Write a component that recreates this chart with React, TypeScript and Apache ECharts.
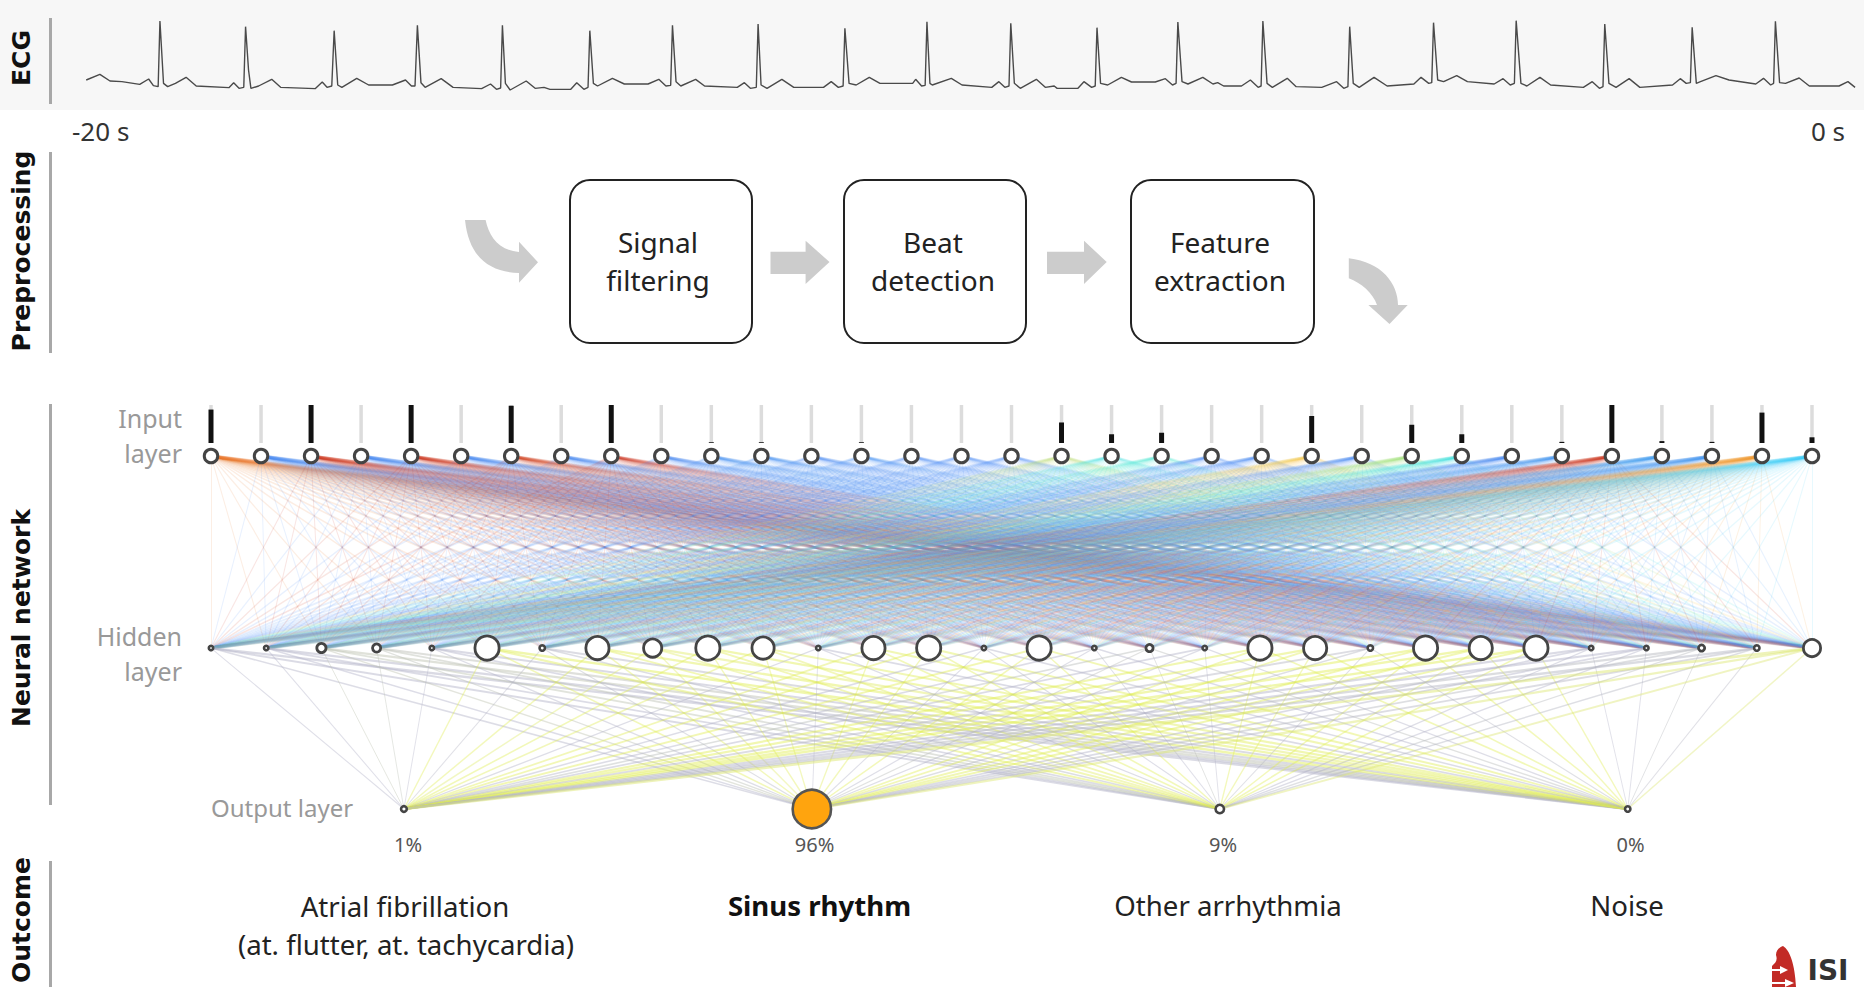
import React, { useEffect, useRef } from "react";
import * as echarts from "echarts";

// ---------- DATA ----------
// ECG trace: [sample, level] (level grows downward on the strip)
const ecgStrip1: number[][] = [
  [145,240],[168,223],[185,243],[205,245],[235,253],[250,237],[258,257],[266,260],[269,63],[275,250],[282,260],[295,250],[313,232],[330,258],
  [385,263],[393,248],[402,265],[410,262],[413,80],[418,210],[422,265],[435,258],[457,238],[472,262],[530,266],[542,246],[550,262],[558,258],
  [562,92],[568,255],[575,262],[600,235],[620,255],[660,255],[682,240],[692,258],[698,258],[702,76],[708,248],[715,262],[742,236],[762,262],
  [810,266],[825,252],[835,268],[842,264],[845,76],[850,250],[858,270],[885,243],[900,265],[915,262],[925,268],[960,268],[970,248],[982,268],[989,262],
  [992,92],[998,250],[1005,258],[1030,235],[1050,252],[1090,252],[1108,238],[1120,258],[1128,256],[1131,76],[1137,245],[1145,258],[1170,238],[1185,258],
  [1240,262],[1252,248],[1262,265],[1272,262],[1275,72],[1280,255],[1290,265],[1315,238],[1335,262],[1385,262],[1398,245],[1410,262],[1418,258],
  [1421,85],[1428,250],[1440,255],[1462,232],[1480,250],[1535,250],[1540,238],[1550,258],[1556,256],[1559,65],[1564,250],
];
const ecgStrip2: number[][] = [
  [0,255],[32,235],[50,255],[100,262],[112,245],[122,262],[129,258],[132,70],[138,250],[148,265],[175,238],[190,262],[205,258],[210,265],[245,265],
  [255,245],[268,262],[274,258],[277,83],[283,250],[295,255],[318,232],[335,246],[375,246],[392,236],[404,255],[410,250],[413,66],[420,245],[430,252],
  [455,232],[472,252],[480,248],[490,258],[520,258],[535,240],[548,262],[553,258],[556,63],[563,250],[572,262],[597,235],[612,260],[655,262],[680,245],
  [692,265],[699,260],[702,80],[708,250],[718,262],[743,232],[765,258],[810,252],[822,232],[835,250],[840,248],[843,68],[850,240],[860,245],[882,227],
  [900,245],[945,252],[960,236],[972,255],[979,250],[982,62],[990,250],[1000,258],[1022,232],[1040,255],[1095,262],[1110,245],[1122,265],[1128,260],
  [1131,72],[1138,250],[1150,262],[1172,236],[1190,262],[1245,255],[1258,236],[1268,250],[1275,248],[1278,82],[1285,250],[1292,245],[1318,227],[1340,240],
  [1385,252],[1398,235],[1410,255],[1415,250],[1418,64],[1425,248],[1435,250],[1458,234],[1475,258],[1525,258],[1540,245],[1552,262],
];
const strip2Start = 1568;

// normalised feature at each input neuron
const inputValues = [0.88,0,1,0,1,0,0.98,0,1,0,0.02,0.02,0,0.02,0,0,0,0.54,0.23,0.27,0,0,0.71,0,0.48,0.23,0,0.03,1,0.05,0.03,0.8,0.15];
// activation at each hidden neuron
const hiddenActivation = [0,0,0.25,0.2,0,1,0.05,0.95,0.7,1,0.9,0,0.95,1,0,1,0,0.15,0,1,0.95,0.05,1,0.95,1,0,0,0.1,0.05,0.65];
// outcome probabilities in percent
const outputPercent = [1,96,9,0];
const percentLabels = ["1%","96%","9%","0%"];
const outcomeLabels = ["Atrial fibrillation","Sinus rhythm","Other arrhythmia","Noise"];
const stages = [["Signal","filtering"],["Beat","detection"],["Feature","extraction"]];
const timeLabels = ["-20 s","0 s"];

// ---------- COLOUR SCALES ----------
const jetStops: [number, number[]][] = [
  [0,[70,136,244]],[0.15,[60,205,245]],[0.25,[64,230,216]],[0.5,[168,224,112]],[0.7,[244,200,64]],[0.85,[240,128,32]],[1,[205,52,30]],
];
const mix = (stops: [number, number[]][], v: number) => {
  for (let i = 1; i < stops.length; i++) {
    if (v <= stops[i][0]) {
      const [a, ca] = stops[i - 1];
      const [b, cb] = stops[i];
      const t = (v - a) / (b - a);
      return `rgb(${ca.map((c, k) => Math.round(c + (cb[k] - c) * t)).join(",")})`;
    }
  }
  const last = stops[stops.length - 1][1];
  return `rgb(${last.join(",")})`;
};
const hiddenStops: [number, number[]][] = [[0,[176,176,198]],[0.3,[190,196,170]],[0.7,[222,234,96]],[1,[222,236,72]]];

// ---------- NETWORK ----------
const OUTPUT_FIRST = 0.1205;
const OUTPUT_STEP = 0.2548;
const HIDDEN_DEPTH = 1;
const OUTPUT_DEPTH = 1.838;

function buildNetwork() {
  const ring = "#444";
  const nodes: any[] = [];
  const links: any[] = [];
  const inputPos = (i: number) => i / (inputValues.length - 1);
  const hiddenPos = (h: number) => h / (hiddenActivation.length - 1);
  const outputPos = (o: number) => OUTPUT_FIRST + o * OUTPUT_STEP;
  inputValues.forEach((_, i) => {
    nodes.push({
      name: `i${i}`,
      value: [inputPos(i), 0],
      symbolSize: 13.5,
      itemStyle: { color: "#fff", borderColor: ring, borderWidth: 3 },
    });
  });
  const hBase = inputValues.length;
  hiddenActivation.forEach((a, i) => {
    const d = 7 + 20 * a;
    const bw = d < 9 ? 2.6 : 2.8;
    nodes.push({
      name: `h${i}`,
      value: [hiddenPos(i), HIDDEN_DEPTH],
      symbolSize: d - bw,
      itemStyle: { color: "#fff", borderColor: ring, borderWidth: bw },
    });
  });
  const oBase = hBase + hiddenActivation.length;
  outputPercent.forEach((p, i) => {
    const d = 8 + (33 * p) / 96;
    const active = p > 50;
    nodes.push({
      name: `o${i}`,
      value: [outputPos(i), OUTPUT_DEPTH],
      symbolSize: d - 2.6,
      itemStyle: { color: active ? "#ffa40e" : "#fff", borderColor: active ? "#555" : ring, borderWidth: 2.6 },
    });
  });
  inputValues.forEach((v, i) => {
    const color = mix(jetStops, v);
    hiddenActivation.forEach((_, h) => {
      const span = Math.abs(inputPos(i) - hiddenPos(h));
      links.push({
        source: i, target: hBase + h,
        lineStyle: { color, width: 1 + 2.4 * span, opacity: 0.12 + 0.03 * span },
      });
    });
  });
  hiddenActivation.forEach((a, h) => {
    const color = mix(hiddenStops, a);
    outputPercent.forEach((_, o) => {
      const span = Math.abs(hiddenPos(h) - outputPos(o));
      links.push({
        source: hBase + h, target: oBase + o,
        lineStyle: { color, width: (a > 0.5 ? 1.3 : 0.9) + 1.6 * span, opacity: a > 0.6 ? 0.36 + 0.12 * span : 0.4 + 0.08 * span },
      });
    });
  });
  return { nodes, links };
}

// ---------- SHAPES ----------
const sweepInPath = "M465 220 L485.6 220 C489 236 498 250 519 252 L519 241.7 L538 262.3 L519 282.7 L519 273 C490 272 469 258 465 220 Z";
const sweepOutPath = "M1348.8 258.3 C1382 262 1398 284 1398 305 L1407.7 305 L1389.5 324 L1368.4 305 L1377 305 C1373 293 1361 283 1348.8 278.3 Z";
const logoPath = "M1783 946 C1790 950 1795 965 1796 987 L1772 987 L1772 966 C1775 963 1778 961 1776 955 C1776 950 1780 947 1783 946 Z";
echarts.graphic.registerShape("sweepIn", echarts.graphic.extendPath(sweepInPath, {}));
echarts.graphic.registerShape("sweepOut", echarts.graphic.extendPath(sweepOutPath, {}));
echarts.graphic.registerShape("isiMark", echarts.graphic.extendPath(logoPath, {}));

const SANS = '"Noto Sans", sans-serif';
const WIDE = '"DejaVu Sans", sans-serif';

const txt = (text: string, x: number, y: number, fontSize: number, fill: string, align = "center", fontWeight: any = "normal", fontFamily = SANS) => ({
  type: "text", x, y, silent: true,
  style: { text, fontSize, fill, align, verticalAlign: "middle", fontWeight, fontFamily },
});
const sideLabel = (text: string, x: number, y: number) => ({ ...txt(text, x, y, 25, "#111", "center", "bold", WIDE), rotation: Math.PI / 2 });
const sideBar = (y1: number, y2: number) => ({
  type: "line", silent: true, shape: { x1: 50.5, y1, x2: 50.5, y2 }, style: { stroke: "#a8a8a8", lineWidth: 3 },
});
const stageBox = (left: number, right: number) => ({
  type: "rect", silent: true, shape: { x: left, y: 180, width: right - left, height: 163, r: 20 },
  style: { fill: "#fff", stroke: "#222", lineWidth: 2 },
});
const block = (x1: number, xh: number, xt: number) => ({
  type: "polygon", silent: true,
  shape: { points: [[x1, 251.7], [xh, 251.7], [xh, 240.7], [xt, 262], [xh, 284], [xh, 274], [x1, 274]] },
  style: { fill: "#cccccc" },
});

export default function App() {
  const ref = useRef<HTMLDivElement>(null);
  useEffect(() => {
    document.body.style.margin = "0";
    const chart = echarts.init(ref.current!, undefined, { renderer: "svg" });
    const { nodes, links } = buildNetwork();
    const ecg = [...ecgStrip1, ...ecgStrip2.map(([s, l]) => [s + strip2Start, l])];
    const inputCats = inputValues.map((_, i) => `x${i + 1}`);
    chart.setOption({
      animation: false,
      backgroundColor: "#fff",
      grid: [
        { left: 0, top: 0, width: 1864, height: 110, show: true, backgroundColor: "#f7f7f7", borderWidth: 0 },
        { left: 211, top: 405, width: 1601, height: 38 },
        { left: 211, top: 456, width: 1601, height: 353 },
      ],
      xAxis: [
        { gridIndex: 0, type: "value", min: 0, max: 3135, show: false },
        { gridIndex: 1, type: "category", data: inputCats, boundaryGap: false, show: false },
        { gridIndex: 1, type: "category", data: inputCats, boundaryGap: false, show: false },
        { gridIndex: 2, type: "value", min: 0, max: 1, show: false },
      ],
      yAxis: [
        { gridIndex: 0, type: "value", min: 0, max: 330, inverse: true, show: false },
        { gridIndex: 1, type: "value", min: 0, max: 1, show: false },
        { gridIndex: 2, type: "value", min: 0, max: OUTPUT_DEPTH, inverse: true, show: false },
      ],
      series: [
        {
          type: "line", xAxisIndex: 0, yAxisIndex: 0, data: ecg, showSymbol: false, silent: true,
          lineStyle: { color: "#4a4a4a", width: 1.4 },
        },
        {
          type: "bar", xAxisIndex: 1, yAxisIndex: 1, data: inputValues.map(() => 1), barWidth: 3.5, silent: true,
          itemStyle: { color: "#dcdcdc" },
        },
        {
          type: "bar", xAxisIndex: 2, yAxisIndex: 1, data: inputValues, barWidth: 5, silent: true,
          itemStyle: { color: "#111" },
        },
        {
          type: "graph", coordinateSystem: "cartesian2d", xAxisIndex: 3, yAxisIndex: 2, layout: "none", silent: true,
          symbol: "circle", data: nodes, links, label: { show: false }, edgeSymbol: ["none", "none"],
        },
      ],
      graphic: {
        elements: [
          sideBar(18, 104), sideBar(152, 353), sideBar(404, 805), sideBar(861, 987),
          sideLabel("ECG", 21, 58), sideLabel("Preprocessing", 21, 251), sideLabel("Neural network", 21, 618), sideLabel("Outcome", 21, 920),
          txt(timeLabels[0], 72, 131, 26, "#333", "left"),
          txt(timeLabels[1], 1845, 131, 26, "#333", "right"),
          { type: "sweepIn", silent: true, style: { fill: "#cccccc" } },
          { type: "sweepOut", silent: true, style: { fill: "#cccccc" } },
          block(770.5, 805.6, 829.5), block(1047, 1084, 1106.7),
          stageBox(570, 752), stageBox(844, 1026), stageBox(1131, 1314),
          txt(stages[0][0], 658, 242, 28, "#222"), txt(stages[0][1], 658, 280, 28, "#222"),
          txt(stages[1][0], 933, 242, 28, "#222"), txt(stages[1][1], 933, 280, 28, "#222"),
          txt(stages[2][0], 1220, 242, 28, "#222"), txt(stages[2][1], 1220, 280, 28, "#222"),
          txt("Input", 182, 418, 25, "#999", "right"), txt("layer", 182, 453, 25, "#999", "right"),
          txt("Hidden", 182, 636, 25, "#999", "right"), txt("layer", 182, 671, 25, "#999", "right"),
          txt("Output layer", 211, 807, 24, "#999", "left"),
          txt(percentLabels[0], 408, 844, 20, "#555"), txt(percentLabels[1], 814.5, 844, 20, "#555"),
          txt(percentLabels[2], 1223, 844, 20, "#555"), txt(percentLabels[3], 1630.5, 844, 20, "#555"),
          txt(outcomeLabels[0], 405, 906, 27.6, "#222"),
          txt("(at. flutter, at. tachycardia)", 406, 944, 27.6, "#222"),
          txt(outcomeLabels[1], 819.5, 905, 27.6, "#111", "center", "bold"),
          txt(outcomeLabels[2], 1228, 905, 27.6, "#222"),
          txt(outcomeLabels[3], 1627, 905, 27.6, "#222"),
          { type: "isiMark", silent: true, style: { fill: "#c22b26" } },
          { type: "polygon", silent: true, shape: { points: [[1772, 969], [1780, 969], [1780, 966], [1788, 970], [1780, 974], [1780, 971], [1772, 971]] }, style: { fill: "#fff" } },
          { type: "polygon", silent: true, shape: { points: [[1772, 982], [1785, 982], [1785, 979], [1794, 983], [1785, 987], [1785, 984], [1772, 984]] }, style: { fill: "#fff" } },
          txt("ISI", 1828, 970, 28, "#333", "center", "bold", WIDE),
        ],
      },
    });
    return () => chart.dispose();
  }, []);
  return <div ref={ref} style={{ position: "absolute", left: 0, top: 0, width: 1864, height: 987, overflow: "hidden" }} />;
}
